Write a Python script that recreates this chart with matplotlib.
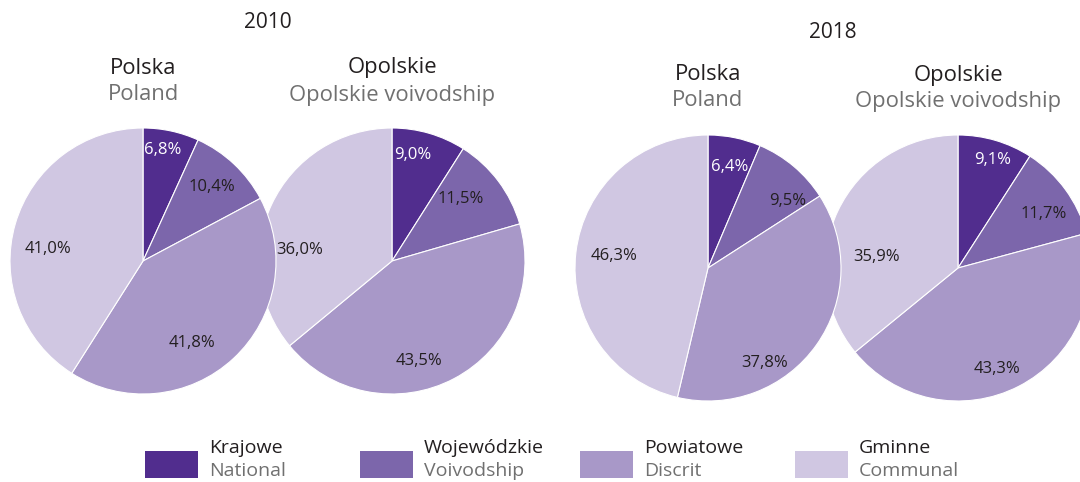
import numpy as np
import matplotlib
matplotlib.use("Agg")
import matplotlib.pyplot as plt
from matplotlib.patches import Rectangle

# ---- data -------------------------------------------------------------
categories_pl = ["Krajowe", "Wojewódzkie", "Powiatowe", "Gminne"]
categories_en = ["National", "Voivodship", "Discrit", "Communal"]

poland_2010 = [6.8, 10.4, 41.8, 41.0]
opolskie_2010 = [9.0, 11.5, 43.5, 36.0]
poland_2018 = [6.4, 9.5, 37.8, 46.3]
opolskie_2018 = [9.1, 11.7, 43.3, 35.9]

years = ["2010", "2018"]
region_pl = ["Polska", "Opolskie"]
region_en = ["Poland", "Opolskie voivodship"]

# ---- style ------------------------------------------------------------
colors = ["#512D8E", "#7C66AB", "#A898C8", "#D0C7E2"]
label_colors = ["white", "#231F20", "#231F20", "#231F20"]
TITLE_C = "#231F20"
SUB_C = "#707070"
FONT = ["Open Sans", "DejaVu Sans"]
plt.rcParams["font.family"] = FONT

W, H = 1080, 482
R = 133

# pie layout (pixel space, y measured upward)
pies = [
    # values, centre, label anchors (fraction of radius, angle in deg)
    (opolskie_2010, (392, 221), [(0.81, 79), (0.70, 42), (0.78, -75), (0.70, 173)]),
    (poland_2010, (143, 221), [(0.85, 80), (0.76, 47), (0.72, -59), (0.72, 173)]),
    (opolskie_2018, (958, 214), [(0.85, 72), (0.76, 32), (0.81, -69), (0.62, 172)]),
    (poland_2018, (708, 214), [(0.78, 78), (0.78, 40), (0.83, -59), (0.71, 173)]),
]

fig = plt.figure(figsize=(W / 100, H / 100), dpi=100)
ax = fig.add_axes([0, 0, 1, 1])

for values, (cx, cy), anchors in pies:
    ax.pie(values, colors=colors, startangle=90, counterclock=False,
           center=(cx, cy), radius=R,
           wedgeprops=dict(edgecolor="white", linewidth=0.8))
    for v, (fr, ang), tc in zip(values, anchors, label_colors):
        a = np.deg2rad(ang)
        ax.text(cx + fr * R * np.cos(a), cy + fr * R * np.sin(a),
                f"{v:.1f}%".replace(".", ","), ha="center", va="center",
                fontsize=12, color=tc)

ax.set_xlim(0, W)
ax.set_ylim(0, H)
ax.set_aspect("equal")
ax.axis("off")

# headings
year_pos = [(268, 460), (833, 450)]
for yr, (x, y) in zip(years, year_pos):
    ax.text(x, y, yr, ha="center", va="center", fontsize=15, color=TITLE_C)

head_pos = [
    [(143, 414, 387), (392, 414, 387)],
    [(708, 407, 381), (958, 407, 381)],
]
for row in head_pos:
    for (x, y1, y2), pl, en in zip(row, region_pl, region_en):
        ax.text(x, y1, pl, ha="center", va="center", fontsize=15.8, color=TITLE_C)
        ax.text(x, y2, en, ha="center", va="center", fontsize=15.8, color=SUB_C)

# legend
leg_x = [145, 360, 580, 795]
for x, c, pl, en in zip(leg_x, colors, categories_pl, categories_en):
    ax.add_patch(Rectangle((x, 4), 53, 27, facecolor=c, edgecolor="none"))
    ax.text(x + 64, 34, pl, ha="left", va="center", fontsize=14, color=TITLE_C)
    ax.text(x + 64, 11, en, ha="left", va="center", fontsize=14, color=SUB_C)

fig.savefig("out.png", dpi=100)
